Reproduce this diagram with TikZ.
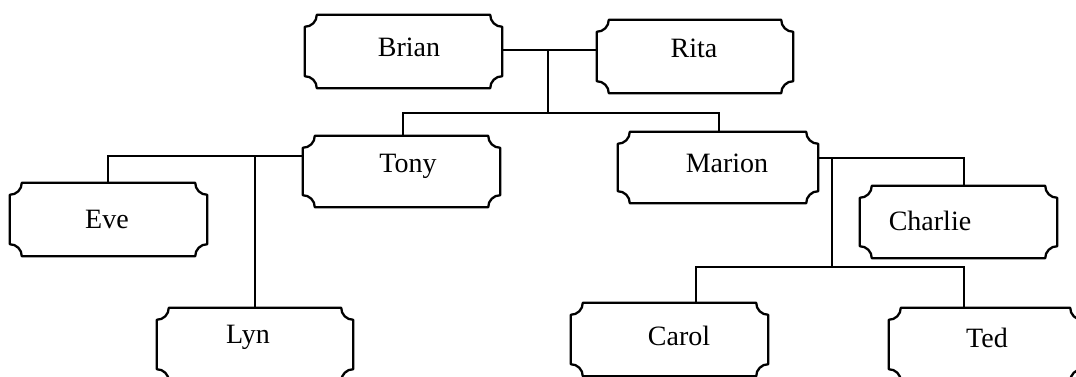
\documentclass[tikz,border=0pt]{standalone}
\usepackage{fontspec}
\setmainfont{Liberation Serif}
\tikzset{
  boxline/.style={line width=2.3pt, line join=round},
  conn/.style={line width=2pt},
  famtext/.style={anchor=base, inner sep=0pt, font=\fontsize{28}{30}\selectfont},
  fambox/.style={inner sep=0pt, draw=none}
}
% #1 name, #2 left, #3 top, #4 right, #5 bottom, #6 text x, #7 text baseline y, #8 text
\newcommand\famnode[8]{%
  \node[fambox, minimum width={(#4)-(#2)}, minimum height={(#5)-(#3)}] (#1) at ({((#2)+(#4))/2},{((#3)+(#5))/2}) {};
  \draw[boxline]
    ($(#1.north west)+(12,0)$) -- ($(#1.north east)+(-12,0)$)
    .. controls ($(#1.north east)+(-12,6.6)$) and ($(#1.north east)+(-6.6,12)$) .. ($(#1.north east)+(0,12)$)
    -- ($(#1.south east)+(0,-12)$)
    .. controls ($(#1.south east)+(-6.6,-12)$) and ($(#1.south east)+(-12,-6.6)$) .. ($(#1.south east)+(-12,0)$)
    -- ($(#1.south west)+(12,0)$)
    .. controls ($(#1.south west)+(12,-6.6)$) and ($(#1.south west)+(6.6,-12)$) .. ($(#1.south west)+(0,-12)$)
    -- ($(#1.north west)+(0,12)$)
    .. controls ($(#1.north west)+(6.6,12)$) and ($(#1.north west)+(12,6.6)$) .. ($(#1.north west)+(12,0)$)
    -- cycle;
  \node[famtext] (#1-t) at (#6,#7) {#8};
}
\usetikzlibrary{calc}
\begin{document}
\begin{tikzpicture}[x=1pt,y=-1pt]
\useasboundingbox (0,0) rectangle (1076,376);
\famnode{brian}{305}{15}{502}{88}{409}{56}{Brian}
\famnode{rita}{597}{20}{793}{93}{694}{57}{Rita}
\famnode{tony}{303}{136}{500}{207}{408}{172}{Tony}
\famnode{marion}{618}{132}{818}{203}{727}{172}{Marion}
\famnode{eve}{10}{183}{207}{256}{107}{228}{Eve}
\famnode{charlie}{860}{186}{1057}{258}{930}{230}{Charlie}
\famnode{lyn}{157}{308}{353}{381}{248}{343}{Lyn}
\famnode{carol}{571}{303}{768}{376}{679}{345}{Carol}
\famnode{ted}{889}{308}{1082}{381}{987}{347}{Ted}

\coordinate (j1) at (548,50);
\coordinate (j2) at (548,113);
\coordinate (tx) at (403,0);
\coordinate (mx) at (719,0);
\coordinate (j3) at (255,156);
\coordinate (ex) at (108,0);
\coordinate (j4) at (832,158);
\coordinate (j5) at (832,267);
\coordinate (chx) at (964,0);
\coordinate (cax) at (696,0);
\coordinate (tdx) at (964,0);

\draw[conn] (brian.east |- j1) -- (rita.west |- j1);
\draw[conn] (j1) -- (j2);
\draw[conn] (tony.north -| tx) |- (j2) -| (marion.north -| mx);
\draw[conn] (tony.west |- j3) -| (eve.north -| ex);
\draw[conn] (j3) -- (lyn.north);
\draw[conn] (marion.east |- j4) -| (charlie.north -| chx);
\draw[conn] (j4) -- (j5);
\draw[conn] (carol.north -| cax) |- (j5) -| (ted.north -| tdx);
\end{tikzpicture}
\end{document}
